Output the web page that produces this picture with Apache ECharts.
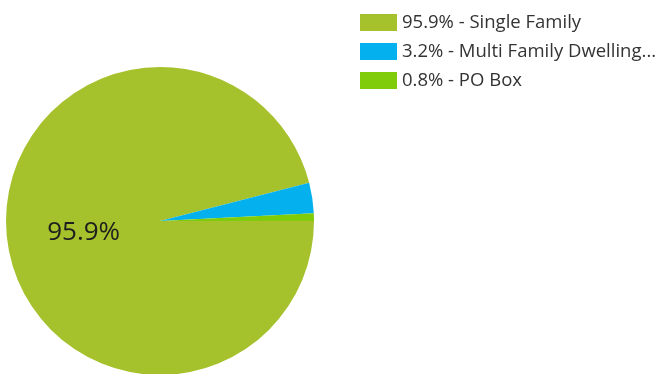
<!DOCTYPE html>
<html>
<head>
<meta charset="utf-8">
<script src="https://cdn.jsdelivr.net/npm/echarts@6/dist/echarts.min.js"></script>
<style>
  html, body { margin: 0; padding: 0; background: #fff; }
  #chart { width: 665px; height: 374px; }
</style>
</head>
<body>
<div id="chart"></div>
<script>
// Address types and their share (percent)
const categories = ['Single Family', 'Multi Family Dwelling...', 'PO Box'];
const shares = [95.9, 3.2, 0.8];
const colors = ['#a5c22d', '#04b1ee', '#80cc0a'];

const pieData = categories.map((name, i) => ({
  name: name,
  value: shares[i],
  itemStyle: { color: colors[i] },
  label: { show: i === 0 }
}));

const chart = echarts.init(document.getElementById('chart'));
chart.setOption({
  animation: false,
  legend: {
    orient: 'vertical',
    left: 355,
    top: 8,
    itemWidth: 37,
    itemHeight: 17,
    itemGap: 10,
    icon: 'rect',
    textStyle: { fontFamily: 'Open Sans', fontSize: 18.5, color: '#333' },
    formatter: function (name) {
      const i = categories.indexOf(name);
      return shares[i].toFixed(1) + '% - ' + name;
    }
  },
  series: [{
    type: 'pie',
    center: [160, 221],
    radius: 154,
    startAngle: 0,
    clockwise: true,
    data: pieData,
    label: {
      position: 'inside',
      formatter: p => p.value.toFixed(1) + '%',
      fontFamily: 'Open Sans',
      fontSize: 26,
      color: '#1e1e1e',
      offset: [3, 2]
    },
    labelLine: { show: false },
    emphasis: { disabled: true }
  }]
});
</script>
</body>
</html>
